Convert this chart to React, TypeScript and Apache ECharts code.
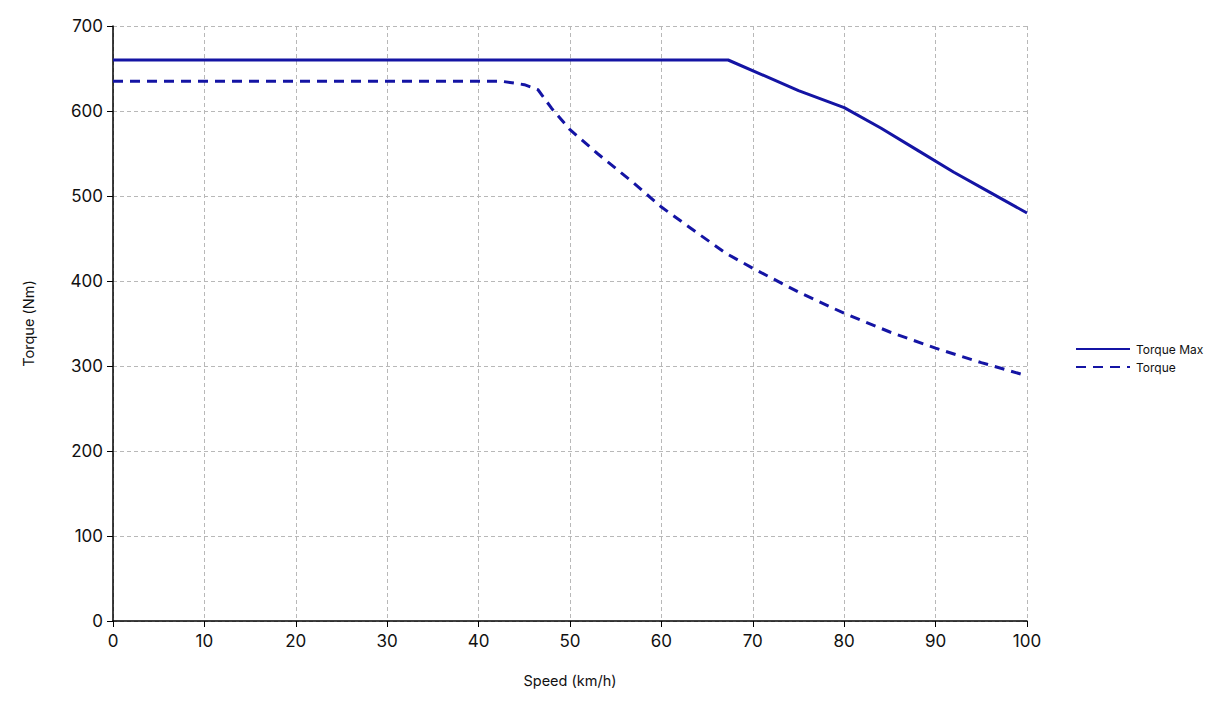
import React, { useEffect, useRef } from "react";
import * as echarts from "echarts";

// Speed (km/h) vs. torque (Nm)
const torqueMaxSpeed = [0, 67.3, 75, 80, 84, 88, 92, 96, 100];
const torqueMaxValue = [660, 660, 624, 604, 580, 554, 528, 504, 480];

const torqueSpeed = [0, 42.5, 45, 46.5, 48, 50, 53, 57, 60, 64, 67, 70, 75, 80, 85, 90, 95, 99.5];
const torqueValue = [635, 635, 631, 625, 603, 578, 550, 515, 487, 456, 433, 415, 387, 362, 340, 321, 304, 290];

const seriesNames = ["Torque Max", "Torque"];
const xTicks = { min: 0, max: 100, interval: 10 };
const yTicks = { min: 0, max: 700, interval: 100 };

const FONT = "Inter, 'Open Sans', sans-serif";
const BLUE = "#1414a4";

export default function App() {
  const ref = useRef<HTMLDivElement>(null);

  useEffect(() => {
    if (!ref.current) return;
    const chart = echarts.init(ref.current, null, { renderer: "svg" });
    const pair = (xs: number[], ys: number[]) => xs.map((x, i) => [x, ys[i]]);

    chart.setOption({
      animation: false,
      backgroundColor: "#ffffff",
      textStyle: { fontFamily: FONT },
      grid: { left: 113, right: 194, top: 26, bottom: 91, containLabel: false },
      legend: {
        orient: "vertical",
        left: 1070,
        top: 338,
        itemWidth: 54,
        itemHeight: 10,
        itemGap: 6,
        itemStyle: { opacity: 0 },
        textStyle: { fontSize: 12, color: "#111", fontFamily: FONT, padding: [0, 0, 0, 1] },
        data: seriesNames,
      },
      xAxis: {
        type: "value",
        min: xTicks.min,
        max: xTicks.max,
        interval: xTicks.interval,
        name: "Speed (km/h)",
        nameLocation: "middle",
        nameGap: 52,
        nameTextStyle: { fontSize: 14.5, color: "#111", fontFamily: FONT },
        axisLine: { show: true, lineStyle: { color: "#000", width: 1.5 } },
        axisTick: { show: true, length: 6, lineStyle: { color: "#000" } },
        axisLabel: { fontSize: 17, color: "#111", margin: 11, fontFamily: FONT },
        splitLine: { show: true, lineStyle: { color: "#b8b8b8", type: [4, 3], width: 1 } },
      },
      yAxis: {
        type: "value",
        min: yTicks.min,
        max: yTicks.max,
        interval: yTicks.interval,
        name: "Torque (Nm)",
        nameLocation: "middle",
        nameGap: 77,
        nameRotate: 90,
        nameTextStyle: { fontSize: 14.5, color: "#111", fontFamily: FONT },
        axisLine: { show: true, lineStyle: { color: "#000", width: 1.5 } },
        axisTick: { show: true, length: 6, lineStyle: { color: "#000" } },
        axisLabel: { fontSize: 17, color: "#111", margin: 10, fontFamily: FONT },
        splitLine: { show: true, lineStyle: { color: "#b8b8b8", type: [4, 3], width: 1 } },
      },
      series: [
        {
          name: seriesNames[0],
          type: "line",
          data: pair(torqueMaxSpeed, torqueMaxValue),
          showSymbol: false,
          symbol: "none",
          lineStyle: { color: BLUE, width: 3 },
          itemStyle: { color: BLUE },
        },
        {
          name: seriesNames[1],
          type: "line",
          data: pair(torqueSpeed, torqueValue),
          showSymbol: false,
          symbol: "none",
          lineStyle: { color: BLUE, width: 3, type: [10, 7] },
          itemStyle: { color: BLUE },
        },
      ],
    });

    return () => chart.dispose();
  }, []);

  return <div ref={ref} style={{ width: 1221, height: 712, position: "absolute", left: 0, top: 0 }} />;
}
